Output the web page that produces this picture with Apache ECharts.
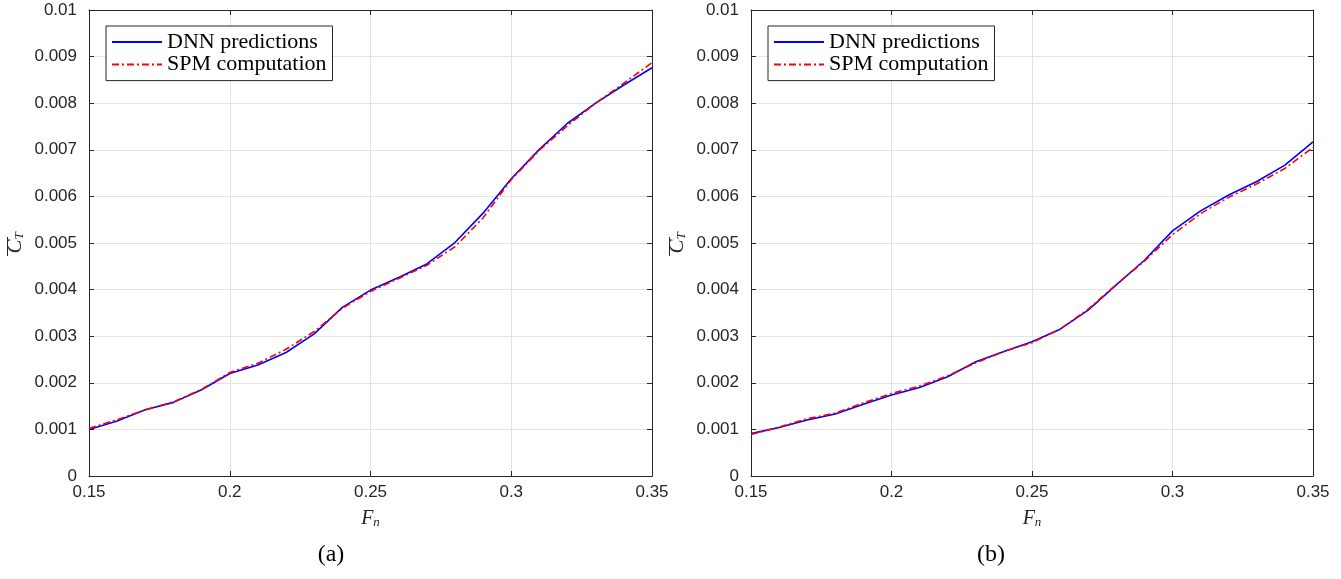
<!DOCTYPE html>
<html>
<head>
<meta charset="utf-8">
<script src="https://cdn.jsdelivr.net/npm/echarts@6/dist/echarts.min.js"></script>
<style>
html,body{margin:0;padding:0;background:#fff;}
#chart{width:1341px;height:579px;}
</style>
</head>
<body>
<div id="chart"></div>
<script>
// Froude number values (x)
const fn = [0.15,0.16,0.17,0.18,0.19,0.20,0.21,0.22,0.23,0.24,0.25,0.26,0.27,0.28,0.29,0.30,0.31,0.32,0.33,0.34,0.35];
// (a) mean thrust coefficient
const dnnA = [0.00100,0.00118,0.00142,0.00158,0.00185,0.00220,0.00238,0.00265,0.00305,0.00362,0.00399,0.00426,0.00455,0.00501,0.00564,0.00638,0.00701,0.00757,0.00800,0.00839,0.00876];
const spmA = [0.00102,0.00121,0.00142,0.00159,0.00186,0.00222,0.00242,0.00272,0.00310,0.00360,0.00396,0.00424,0.00452,0.00492,0.00554,0.00636,0.00699,0.00752,0.00800,0.00843,0.00887];
// (b) mean thrust coefficient
const dnnB = [0.00091,0.00104,0.00120,0.00133,0.00154,0.00174,0.00190,0.00213,0.00245,0.00267,0.00288,0.00315,0.00356,0.00410,0.00463,0.00526,0.00569,0.00603,0.00632,0.00667,0.00717];
const spmB = [0.00089,0.00105,0.00123,0.00135,0.00157,0.00177,0.00193,0.00215,0.00243,0.00267,0.00286,0.00315,0.00358,0.00411,0.00461,0.00518,0.00563,0.00598,0.00627,0.00660,0.00705];
// axis settings
const xTicks = {min:0.15, max:0.35, step:0.05};
const yTicks = {min:0, max:0.01, step:0.001};
const names = ['DNN predictions','SPM computation'];
const panelLabels = ['(a)','(b)'];

const axisColor = '#262626';
const gridColor = '#e3e3e3';
const sans = 'Liberation Sans';
const serif = 'Liberation Serif';

const grids = [
  {left:89, top:10, width:563, height:466},
  {left:751, top:10, width:562, height:466}
];

function fmt(v){ return String(Number(v.toFixed(4))); }

const xAxes = [], yAxes = [], series = [], legends = [];
grids.forEach((g, gi) => {
  xAxes.push({
    type:'value', gridIndex:gi, position:'bottom',
    min:xTicks.min, max:xTicks.max, interval:xTicks.step,
    axisLine:{show:true, onZero:false, lineStyle:{color:axisColor, width:1}},
    axisTick:{show:true, inside:true, length:5, lineStyle:{color:axisColor}},
    axisLabel:{color:axisColor, fontFamily:sans, fontSize:17, margin:8, formatter:fmt},
    splitLine:{show:true, lineStyle:{color:gridColor, width:1}},
    name:'{f|F}{n|n}', nameLocation:'middle', nameGap:32,
    nameTextStyle:{rich:{
      f:{fontFamily:serif, fontStyle:'italic', fontSize:20, color:axisColor},
      n:{fontFamily:serif, fontStyle:'italic', fontSize:13, color:axisColor, padding:[8,0,0,0]}
    }}
  });
  xAxes.push({
    type:'value', gridIndex:gi, position:'top',
    min:xTicks.min, max:xTicks.max, interval:xTicks.step,
    axisLine:{show:true, onZero:false, lineStyle:{color:axisColor, width:1}},
    axisTick:{show:true, inside:true, length:5, lineStyle:{color:axisColor}},
    axisLabel:{show:false}, splitLine:{show:false}
  });
  yAxes.push({
    type:'value', gridIndex:gi, position:'left',
    min:yTicks.min, max:yTicks.max, interval:yTicks.step,
    axisLine:{show:true, onZero:false, lineStyle:{color:axisColor, width:1}},
    axisTick:{show:true, inside:true, length:5, lineStyle:{color:axisColor}},
    axisLabel:{color:axisColor, fontFamily:sans, fontSize:17, margin:12, formatter:fmt},
    splitLine:{show:true, lineStyle:{color:gridColor, width:1}},
    name:'{c|C}{t|T}', nameLocation:'middle', nameGap:63, nameRotate:90,
    nameTextStyle:{rich:{
      c:{fontFamily:serif, fontStyle:'italic', fontSize:21, color:axisColor},
      t:{fontFamily:serif, fontStyle:'italic', fontSize:13, color:axisColor, padding:[8,0,0,0]}
    }}
  });
  yAxes.push({
    type:'value', gridIndex:gi, position:'right',
    min:yTicks.min, max:yTicks.max, interval:yTicks.step,
    axisLine:{show:true, onZero:false, lineStyle:{color:axisColor, width:1}},
    axisTick:{show:true, inside:true, length:5, lineStyle:{color:axisColor}},
    axisLabel:{show:false}, splitLine:{show:false}
  });
  legends.push({
    left: g.left + 17, top: 26, orient:'vertical',
    data: names,
    itemWidth:50, itemHeight:14, itemGap:0.6,
    padding:[5,6,5,5],
    itemStyle:{opacity:0, borderWidth:0},
    backgroundColor:'#fff', borderColor:axisColor, borderWidth:1,
    textStyle:{fontFamily:serif, fontSize:22, color:'#000', lineHeight:22},
    selectedMode:false
  });
});

const dataSets = [[dnnA, spmA],[dnnB, spmB]];
dataSets.forEach((pair, gi) => {
  series.push({
    name:names[0], type:'line', xAxisIndex:gi*2, yAxisIndex:gi*2,
    data: fn.map((x,i)=>[x, pair[0][i]]),
    symbol:'none', smooth:false, z:3,
    lineStyle:{color:'#0000ff', width:1.6, type:'solid'},
    itemStyle:{color:'#0000ff'}
  });
  series.push({
    name:names[1], type:'line', xAxisIndex:gi*2, yAxisIndex:gi*2,
    data: fn.map((x,i)=>[x, pair[1][i]]),
    symbol:'none', smooth:false, z:4,
    lineStyle:{color:'#ff0000', width:1.6, type:[7,3,2,3]},
    itemStyle:{color:'#ff0000'}
  });
});

const chart = echarts.init(document.getElementById('chart'), null, {renderer:'canvas'});
chart.setOption({
  animation:false,
  backgroundColor:'#fff',
  grid: grids.map(g=>Object.assign({containLabel:false}, g)),
  xAxis:xAxes, yAxis:yAxes, legend:legends, series:series,
  graphic:[
    {type:'line', shape:{x1:7.5, y1:237, x2:7.5, y2:256}, style:{stroke:axisColor, lineWidth:1}},
    {type:'line', shape:{x1:669.5, y1:237, x2:669.5, y2:256}, style:{stroke:axisColor, lineWidth:1}},
    {type:'text', x:331, y:555, style:{text:panelLabels[0], font:'24px "Liberation Serif"', fill:'#000', textAlign:'center', textVerticalAlign:'middle'}},
    {type:'text', x:991, y:555, style:{text:panelLabels[1], font:'24px "Liberation Serif"', fill:'#000', textAlign:'center', textVerticalAlign:'middle'}}
  ]
});
</script>
</body>
</html>
